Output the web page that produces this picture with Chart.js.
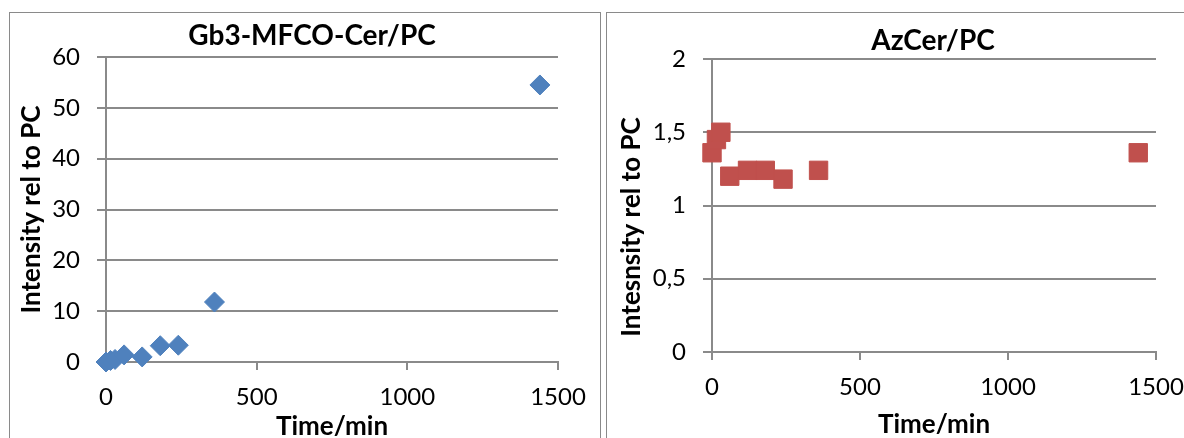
<!DOCTYPE html>
<html>
<head>
<meta charset="utf-8">
<script src="https://cdn.jsdelivr.net/npm/chart.js@4/dist/chart.umd.min.js"></script>
<style>
    body { margin: 0; background: #fff; width: 1184px; height: 438px; overflow: hidden; position: relative; }
    .panel { position: absolute; top: 12px; height: 440px; border: 1px solid #8a8a8a; box-sizing: border-box; overflow: hidden; background: #fff; }
    #leftPanel { left: 9px; width: 592px; }
    #rightPanel { left: 606px; width: 600px; }
    canvas { position: absolute; left: 0; top: 0; }
</style>
</head>
<body>
<div class="panel" id="leftPanel"><canvas id="gb3Chart" width="590" height="425"></canvas></div>
<div class="panel" id="rightPanel"><canvas id="azChart" width="577" height="425"></canvas></div>

<script>
// Data
const gb3Times = [0, 15, 30, 60, 120, 180, 240, 360, 1440];
const gb3Values = [0, 0.3, 0.5, 1.4, 1.0, 3.2, 3.3, 11.8, 54.5];

const azTimes = [0, 15, 30, 60, 120, 180, 240, 360, 1440];
const azValues = [1.36, 1.45, 1.50, 1.20, 1.24, 1.24, 1.18, 1.24, 1.36];

const xTickValues = [0, 500, 1000, 1500];
const gb3YTickValues = [0, 10, 20, 30, 40, 50, 60];
const azYTickValues = [0, 0.5, 1, 1.5, 2];
const azYTickLabels = ['0', '0,5', '1', '1,5', '2'];

const FONT = 'Lato, "Open Sans", sans-serif';
const GRID = '#8a8a8a';

// draws the panel heading (and optionally a y title) where Excel put them,
// which is not always centred on the canvas / plot area
const panelTitle = {
    id: 'panelTitle',
    afterDraw(chart, args, opts) {
        const ctx = chart.ctx;
        ctx.save();
        ctx.fillStyle = '#000';
        ctx.textAlign = 'center';
        ctx.textBaseline = 'middle';
        ctx.font = 'bold 28px ' + FONT;
        ctx.fillText(opts.text, opts.x, opts.y);
        if (opts.yText) {
            ctx.font = 'bold 26px ' + FONT;
            ctx.translate(opts.yTextX, opts.yTextY);
            ctx.rotate(-Math.PI / 2);
            ctx.fillText(opts.yText, 0, 0);
        }
        ctx.restore();
    }
};

function toPoints(xs, ys) {
    return xs.map((x, i) => ({ x: x, y: ys[i] }));
}

function makeOptions(cfg) {
    return {
        responsive: false,
        animation: false,
        layout: { padding: { top: cfg.padTop, right: cfg.padRight, left: 0, bottom: 0 } },
        plugins: {
            legend: { display: false },
            tooltip: { enabled: false },
            panelTitle: {
                text: cfg.title, x: cfg.titleX, y: cfg.titleY,
                yText: cfg.freeYTitle ? cfg.yTitle : null, yTextX: cfg.yTitleX, yTextY: cfg.yTitleY
            }
        },
        scales: {
            x: {
                type: 'linear',
                min: 0,
                max: 1500,
                afterBuildTicks: s => { s.ticks = xTickValues.map(v => ({ value: v })); },
                afterFit: s => { s.height = cfg.xHeight; s.paddingLeft = 0; s.paddingRight = 0; },
                grid: { drawOnChartArea: false, drawTicks: true, tickLength: 8, color: GRID, lineWidth: 2 },
                border: { display: true, color: GRID, width: 2 },
                ticks: {
                    color: '#000',
                    padding: cfg.xTickPad,
                    maxRotation: 0,
                    font: { family: FONT, size: 24 },
                    callback: v => String(v)
                },
                title: {
                    display: true,
                    text: 'Time/min',
                    color: '#000',
                    padding: { top: 0, bottom: cfg.xTitlePad },
                    font: { family: FONT, size: 26, weight: 'bold', lineHeight: 1 }
                }
            },
            y: {
                type: 'linear',
                min: cfg.yMin,
                max: cfg.yMax,
                afterBuildTicks: s => { s.ticks = cfg.yTicks.map(v => ({ value: v })); },
                afterFit: s => { s.width = cfg.yWidth; },
                grid: { drawOnChartArea: true, drawTicks: true, tickLength: 9, color: GRID, lineWidth: 2 },
                border: { display: true, color: GRID, width: 2 },
                ticks: {
                    color: '#000',
                    padding: 17,
                    font: { family: FONT, size: 24 },
                    callback: cfg.yLabel
                },
                title: {
                    display: !cfg.freeYTitle,
                    text: cfg.yTitle,
                    color: '#000',
                    padding: { top: cfg.yTitlePad, bottom: 0 },
                    font: { family: FONT, size: 26, weight: 'bold', lineHeight: 1 }
                }
            }
        }
    };
}

new Chart(document.getElementById('gb3Chart'), {
    type: 'scatter',
    data: {
        datasets: [{
            data: toPoints(gb3Times, gb3Values),
            pointStyle: 'rectRot',
            pointRadius: 10,
            backgroundColor: '#4F81BD',
            borderColor: '#4F81BD',
            borderWidth: 1,
            clip: false
        }]
    },
    options: makeOptions({
        title: 'Gb3-MFCO-Cer/PC', titleX: 302, titleY: 23,
        padTop: 44, padRight: 42,
        xHeight: 76, xTickPad: 13, xTitlePad: -2,
        yWidth: 96, yTitlePad: 9, yTitle: 'Intensity rel to PC',
        yMin: 0, yMax: 60, yTicks: gb3YTickValues,
        yLabel: v => String(v)
    }),
    plugins: [panelTitle]
});

new Chart(document.getElementById('azChart'), {
    type: 'scatter',
    data: {
        datasets: [{
            data: toPoints(azTimes, azValues),
            pointStyle: 'rect',
            pointRadius: 13,
            backgroundColor: '#C0504D',
            borderColor: '#C0504D',
            borderWidth: 1,
            clip: false
        }]
    },
    options: makeOptions({
        title: 'AzCer/PC', titleX: 326, titleY: 28,
        padTop: 46, padRight: 28,
        xHeight: 86, xTickPad: 13, xTitlePad: 0,
        yWidth: 105, yTitle: 'Intesnsity rel to PC',
        freeYTitle: true, yTitleX: 25, yTitleY: 214,
        yMin: 0, yMax: 2, yTicks: azYTickValues,
        yLabel: (v, i) => azYTickLabels[i]
    }),
    plugins: [panelTitle]
});
</script>
</body>
</html>
